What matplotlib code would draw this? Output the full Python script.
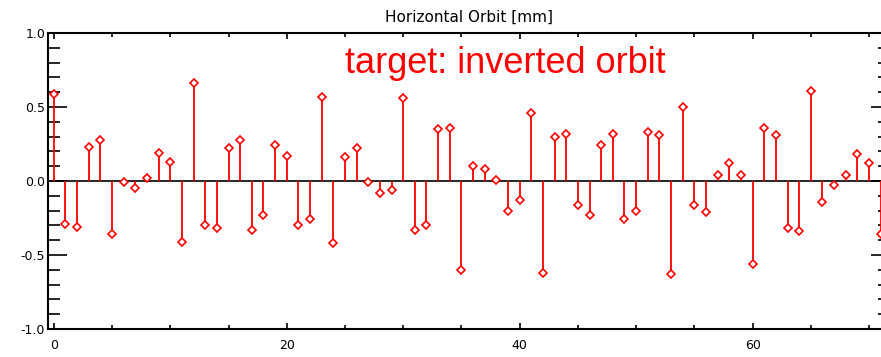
import matplotlib
matplotlib.use("Agg")
import matplotlib.pyplot as plt
from matplotlib.ticker import MultipleLocator, FormatStrFormatter

# monitor index and orbit value [mm]
monitors = list(range(72))
orbit = [0.59, -0.29, -0.31, 0.23, 0.28, -0.36, -0.01, -0.05, 0.02, 0.19,
         0.13, -0.41, 0.66, -0.30, -0.32, 0.22, 0.28, -0.33, -0.23, 0.24,
         0.17, -0.30, -0.26, 0.57, -0.42, 0.16, 0.22, -0.01, -0.08, -0.06,
         0.56, -0.33, -0.30, 0.35, 0.36, -0.60, 0.10, 0.08, 0.01, -0.20,
         -0.13, 0.46, -0.62, 0.30, 0.32, -0.16, -0.23, 0.24, 0.32, -0.26,
         -0.20, 0.33, 0.31, -0.63, 0.50, -0.16, -0.21, 0.04, 0.12, 0.04,
         -0.56, 0.36, 0.31, -0.32, -0.34, 0.61, -0.14, -0.03, 0.04, 0.18,
         0.12, -0.36]

title = "Horizontal Orbit [mm]"
note = "target: inverted orbit"

plt.rcParams['axes.unicode_minus'] = False

fig = plt.figure(figsize=(8.81, 3.57), dpi=100)
ax = fig.add_axes([48 / 881, 28 / 357, 842 / 881, 296 / 357])

ax.axhline(0, color='black', lw=1.2, zorder=1)
ax.vlines(monitors, 0, orbit, color='red', lw=1.3, zorder=2)
ax.plot(monitors, orbit, ls='none', marker='D', ms=4.5, mfc='white',
        mec='red', mew=1.2, zorder=3)

ax.set_xlim(-0.5, 71.8)
ax.set_ylim(-1.0, 1.0)

ax.xaxis.set_major_locator(MultipleLocator(20))
ax.xaxis.set_minor_locator(MultipleLocator(5))
ax.yaxis.set_major_locator(MultipleLocator(0.5))
ax.yaxis.set_minor_locator(MultipleLocator(0.1))
ax.yaxis.set_major_formatter(FormatStrFormatter('%.1f'))

ax.tick_params(which='both', direction='in', top=True, right=True,
               width=1.2, labelsize=9, pad=2)
ax.tick_params(axis='y', which='major', length=14)
ax.tick_params(axis='y', which='minor', length=8.5)
ax.tick_params(axis='x', which='major', length=4.5, pad=7)
ax.tick_params(axis='x', which='minor', length=3)
for s in ax.spines.values():
    s.set_linewidth(1.5)

ax.set_title(title, fontsize=11, pad=8)
fig.text(345 / 881, (357 - 73) / 357, note, color='red', fontsize=26,
         family='Liberation Sans', va='baseline', ha='left')

fig.savefig('out.png', dpi=100)
